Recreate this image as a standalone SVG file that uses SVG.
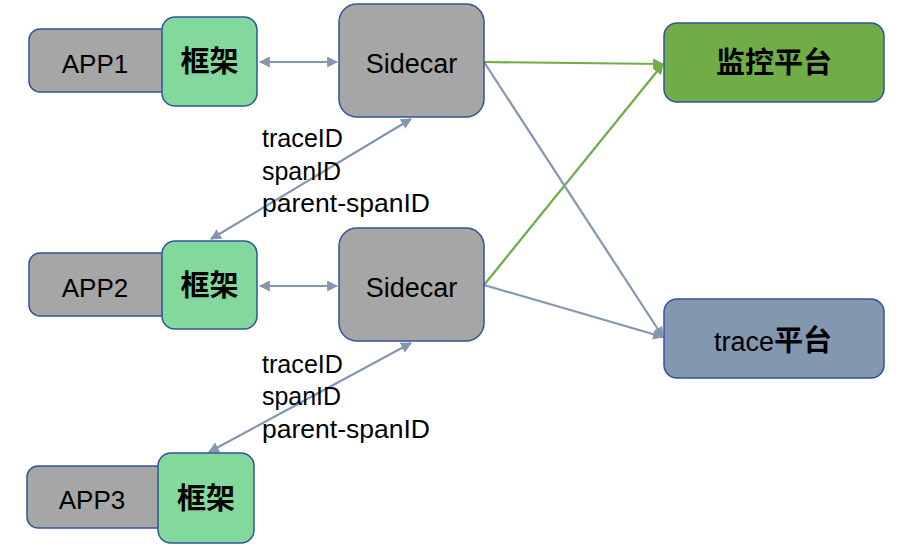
<svg xmlns="http://www.w3.org/2000/svg" width="904" height="558" viewBox="0 0 904 558">
<defs>
<marker id="ab" viewBox="0 0 10 10" refX="9" refY="5" markerWidth="5" markerHeight="5" orient="auto-start-reverse" markerUnits="strokeWidth"><path d="M0,0 L10,5 L0,10 z" fill="#8497B0"/></marker>
<marker id="ag" viewBox="0 0 10 10" refX="9" refY="5" markerWidth="5" markerHeight="5" orient="auto" markerUnits="strokeWidth"><path d="M0,0 L10,5 L0,10 z" fill="#70AD47"/></marker>
</defs>
<style>
.app{fill:#A6A6A6;stroke:#2F5597;stroke-width:1.5}
.fw{fill:#82D99B;stroke:#2F5597;stroke-width:1.5}
.sc{fill:#A6A6A6;stroke:#2F5597;stroke-width:1.5}
.t{font-family:"Liberation Sans","Noto Sans CJK SC",sans-serif;fill:#000}
.lbl{font-size:26px}
.sd{font-size:27px}
.cjk{font-family:"Noto Sans CJK SC",sans-serif;font-size:29px;font-weight:bold;fill:#000}
.ids{font-family:"Liberation Sans","Noto Sans CJK SC",sans-serif;font-size:25px;fill:#000}
.cb{stroke:#8497B0;stroke-width:2.2;fill:none}
.cg{stroke:#70AD47;stroke-width:2.2;fill:none}
</style>
<rect width="904" height="558" fill="#fff"/>
<g id="connectors">
<line class="cb" x1="260" y1="62" x2="337" y2="62" marker-start="url(#ab)" marker-end="url(#ab)"/>
<line class="cb" x1="260" y1="286" x2="337" y2="286" marker-start="url(#ab)" marker-end="url(#ab)"/>
<line class="cb" x1="211" y1="239" x2="411" y2="119" marker-start="url(#ab)" marker-end="url(#ab)"/>
<line class="cb" x1="209" y1="452" x2="411" y2="343" marker-start="url(#ab)" marker-end="url(#ab)"/>
<line class="cg" x1="484" y1="62" x2="663" y2="64" marker-end="url(#ag)"/>
<line class="cg" x1="484" y1="285" x2="663" y2="64" marker-end="url(#ag)"/>
<line class="cb" x1="484" y1="62" x2="663" y2="337" marker-end="url(#ab)"/>
<line class="cb" x1="484" y1="285" x2="663" y2="337" marker-end="url(#ab)"/>
</g>
<g id="app1">
<rect class="app" x="29" y="29" width="150" height="63" rx="11"/>
<text class="t lbl" x="95" y="73" text-anchor="middle">APP1</text>
</g>
<g id="fw1">
<rect class="fw" x="162" y="17" width="95" height="89" rx="13"/>
<text class="cjk" x="209.5" y="72" text-anchor="middle">框架</text>
</g>
<g id="sidecar1">
<rect class="sc" x="339" y="4" width="145" height="113" rx="18"/>
<text class="t sd" x="411.5" y="73" text-anchor="middle">Sidecar</text>
</g>
<g id="app2">
<rect class="app" x="29" y="253" width="150" height="63" rx="11"/>
<text class="t lbl" x="95" y="297" text-anchor="middle">APP2</text>
</g>
<g id="fw2">
<rect class="fw" x="162" y="241" width="95" height="88" rx="13"/>
<text class="cjk" x="209.5" y="296" text-anchor="middle">框架</text>
</g>
<g id="sidecar2">
<rect class="sc" x="339" y="228" width="145" height="113" rx="18"/>
<text class="t sd" x="411.5" y="297" text-anchor="middle">Sidecar</text>
</g>
<g id="app3">
<rect class="app" x="27" y="466" width="150" height="62" rx="11"/>
<text class="t lbl" x="92" y="509" text-anchor="middle">APP3</text>
</g>
<g id="fw3">
<rect class="fw" x="158" y="453" width="96" height="90" rx="13"/>
<text class="cjk" x="206" y="509" text-anchor="middle">框架</text>
</g>
<g id="monitor">
<rect x="664" y="23" width="220" height="79" rx="13" fill="#70AD47" stroke="#2F5597" stroke-width="1.5"/>
<text class="cjk" x="774" y="73" text-anchor="middle">监控平台</text>
</g>
<g id="trace">
<rect x="664" y="299" width="220" height="79" rx="13" fill="#8497B0" stroke="#2F5597" stroke-width="1.5"/>
<text x="773" y="351" text-anchor="middle" class="t sd"><tspan>trace</tspan><tspan style="font-family:'Noto Sans CJK SC',sans-serif;font-weight:bold;font-size:29px">平台</tspan></text>
</g>
<g id="ids1">
<text class="ids" x="262" y="147" textLength="81" lengthAdjust="spacingAndGlyphs">traceID</text>
<text class="ids" x="262" y="180" textLength="79" lengthAdjust="spacingAndGlyphs">spanID</text>
<text class="ids" x="262" y="212" textLength="168" lengthAdjust="spacingAndGlyphs">parent-spanID</text>
</g>
<g id="ids2">
<text class="ids" x="262" y="373" textLength="81" lengthAdjust="spacingAndGlyphs">traceID</text>
<text class="ids" x="262" y="405" textLength="79" lengthAdjust="spacingAndGlyphs">spanID</text>
<text class="ids" x="262" y="438" textLength="168" lengthAdjust="spacingAndGlyphs">parent-spanID</text>
</g>
</svg>
